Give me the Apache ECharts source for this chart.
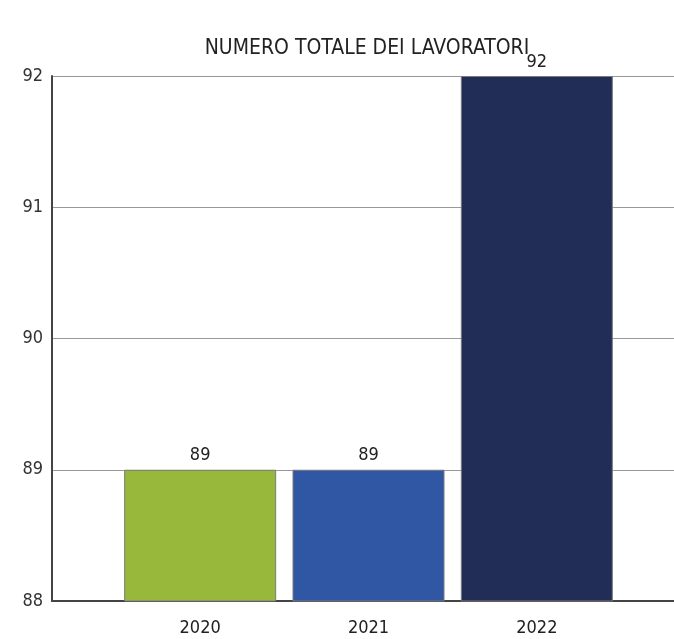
<!DOCTYPE html>
<html>
<head>
<meta charset="utf-8">
<script src="https://cdn.jsdelivr.net/npm/echarts@6/dist/echarts.min.js"></script>
<style>
html,body{margin:0;padding:0;background:#fff;}
#chart{width:674px;height:639px;}
</style>
</head>
<body>
<div id="chart"></div>
<script>
// Workforce headcount per year
const years = ['2020', '2021', '2022'];
const workers = [89, 89, 92];
const barColors = ['#97b83b', '#3057a4', '#222d57'];
const yTicks = [88, 89, 90, 91, 92];

const FONT = "'Liberation Sans Narrow', 'DejaVu Sans Condensed', 'Liberation Sans', sans-serif";

const chart = echarts.init(document.getElementById('chart'));
const yMin = yTicks[0], yMax = yTicks[yTicks.length - 1];

chart.setOption({
  animation: false,
  backgroundColor: '#ffffff',
  title: {
    text: 'NUMERO TOTALE DEI LAVORATORI',
    left: 362, textAlign: 'center', top: 33,
    textStyle: { fontFamily: FONT, fontSize: 21, fontWeight: 'normal', color: '#222' }
  },
  grid: [
    // frame with value axis and gridlines
    { left: 52, right: 0, top: 76, bottom: 38 },
    // band holding the bars
    { left: 116, right: 53, top: 76, bottom: 38 }
  ],
  xAxis: [
    {
      type: 'value', gridIndex: 0, min: 0, max: 1,
      axisLine: { show: true, lineStyle: { color: '#444', width: 2 } },
      axisTick: { show: false }, axisLabel: { show: false }, splitLine: { show: false }
    },
    {
      type: 'category', gridIndex: 1, data: years,
      axisLine: { show: false }, axisTick: { show: false },
      axisLabel: { fontFamily: FONT, fontSize: 18, color: '#222', margin: 18 }
    }
  ],
  yAxis: [
    {
      type: 'value', gridIndex: 0, min: yMin, max: yMax, interval: 1,
      axisLine: { show: true, lineStyle: { color: '#444', width: 2 } },
      axisTick: { show: false },
      axisLabel: { fontFamily: FONT, fontSize: 18, color: '#333', margin: 9 },
      splitLine: { show: true, lineStyle: { color: '#999', width: 1.2 } }
    },
    {
      type: 'value', gridIndex: 1, min: yMin, max: yMax, interval: 1, show: false
    }
  ],
  series: [{
    type: 'bar',
    xAxisIndex: 1, yAxisIndex: 1,
    barWidth: 152,
    data: workers.map((v, i) => ({
      value: v,
      itemStyle: { color: barColors[i], borderColor: '#7a7a7a', borderWidth: 1 }
    })),
    label: {
      show: true, position: 'top', distance: 5,
      fontFamily: FONT, fontSize: 18, color: '#222'
    }
  }]
});
</script>
</body>
</html>
